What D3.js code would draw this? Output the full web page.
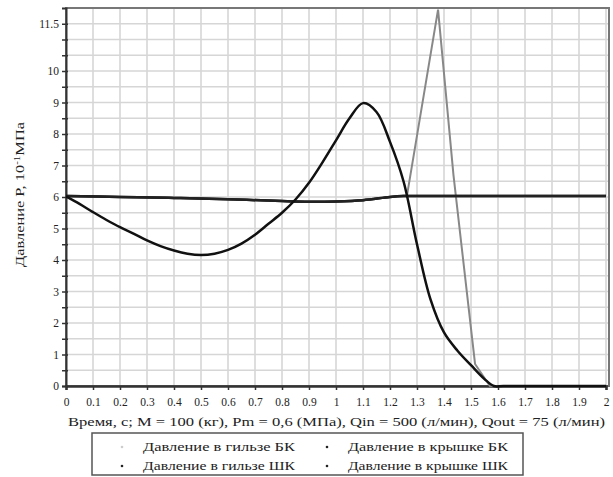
<!DOCTYPE html>
<html>
<head>
<meta charset="utf-8">
<script src="https://d3js.org/d3.v7.min.js"></script>
<style>
    body { margin: 0; background: #fff; }
    text { font-family: "Liberation Serif", "DejaVu Serif", serif; fill: #222; }
</style>
</head>
<body>
<svg width="613" height="477"></svg>
<script>
// time, s
var tGilzaBK  = [0, 0.2, 0.4, 0.6, 0.8, 0.9, 1.0, 1.1, 1.2, 1.263, 1.378, 1.435, 1.515, 1.57, 2];
var pGilzaBK  = [6.03, 6.0, 5.97, 5.93, 5.87, 5.85, 5.86, 5.9, 6.0, 6.05, 11.95, 6.7, 0.7, 0, 0];

var tKryshkaBK = [0, 0.2, 0.4, 0.6, 0.8, 0.9, 1.0, 1.1, 1.2, 1.25, 1.3, 1.6, 2];
var pKryshkaBK = [6.03, 6.0, 5.97, 5.93, 5.87, 5.85, 5.86, 5.9, 6.0, 6.03, 6.03, 6.03, 6.03];

var tGilzaShK = [0, 0.05, 0.1, 0.15, 0.2, 0.25, 0.3, 0.35, 0.4, 0.45, 0.5, 0.55, 0.6, 0.65, 0.7, 0.75, 0.8, 0.85,
                 0.9, 0.95, 1.0, 1.05, 1.1, 1.15, 1.2, 1.25, 1.3, 1.35, 1.4, 1.45, 1.5, 1.55, 1.585, 1.62, 2];
var pGilzaShK = [6.02, 5.78, 5.52, 5.27, 5.04, 4.84, 4.62, 4.44, 4.3, 4.2, 4.16, 4.2, 4.32, 4.52, 4.8, 5.15, 5.5, 5.92,
                 6.45, 7.1, 7.8, 8.5, 8.98, 8.7, 7.75, 6.5, 4.5, 2.75, 1.7, 1.12, 0.66, 0.22, 0, 0, 0];

var tKryshkaShK = tKryshkaBK;
var pKryshkaShK = pKryshkaBK;

var xTicks = d3.range(0, 21).map(function (i) { return i / 10; });
var yLabelTicks = [0, 1, 2, 3, 4, 5, 6, 7, 8, 9, 10, 11.5];
var yMinorTicks = d3.range(0, 24).map(function (i) { return i / 2; });

var legendNames = ["Давление в гильзе БК", "Давление в крышке БК", "Давление в гильзе ШК", "Давление в крышке ШК"];

var svg = d3.select("svg");

var x = d3.scaleLinear().domain([0, 2]).range([66, 606]);
var y = d3.scaleLinear().domain([0, 12]).range([386, 8]);

// grid
svg.append("g").selectAll("line")
    .data(xTicks.slice(1))
    .enter().append("line")
    .attr("x1", function (d) { return x(d); })
    .attr("x2", function (d) { return x(d); })
    .attr("y1", y(12)).attr("y2", y(0))
    .attr("stroke", "#d6d6d6").attr("stroke-width", 1.6);

svg.append("g").selectAll("line")
    .data(yMinorTicks.slice(1))
    .enter().append("line")
    .attr("x1", x(0)).attr("x2", 609)
    .attr("y1", function (d) { return y(d); })
    .attr("y2", function (d) { return y(d); })
    .attr("stroke", "#d6d6d6").attr("stroke-width", 1.6);

// frame
svg.append("rect")
    .attr("x", x(0)).attr("y", y(12))
    .attr("width", 609 - x(0)).attr("height", y(0) - y(12))
    .attr("fill", "none").attr("stroke", "#777").attr("stroke-width", 2);

// axes
var yAxis = svg.append("g")
    .attr("transform", "translate(" + x(0) + ",0)")
    .call(d3.axisLeft(y).tickValues(yMinorTicks).tickSize(4)
        .tickFormat(function (d) { return yLabelTicks.indexOf(d) >= 0 ? d3.format("")(d) : ""; }));
yAxis.select(".domain").attr("stroke", "#333").attr("stroke-width", 2);
yAxis.selectAll(".tick line").attr("stroke", "#333").attr("stroke-width", 1.5).attr("x2", 2).attr("x1", -4);
yAxis.selectAll(".tick text").attr("x", -7).style("font-family", "Liberation Serif").style("font-size", "11.5px").attr("fill", "#222");

var xAxis = svg.append("g")
    .attr("transform", "translate(0," + y(0) + ")")
    .call(d3.axisBottom(x).tickValues(xTicks).tickSize(4).tickFormat(d3.format("")));
xAxis.select(".domain").attr("stroke", "#333").attr("stroke-width", 2.5);
xAxis.selectAll(".tick line").attr("stroke", "#333").attr("stroke-width", 1.5);
xAxis.selectAll(".tick text").attr("y", 12).style("font-family", "Liberation Serif").style("font-size", "11.5px").attr("fill", "#222");

// curves
function series(t, p) {
    return t.map(function (d, i) { return [d, p[i]]; });
}
var smooth = d3.line()
    .x(function (d) { return x(d[0]); })
    .y(function (d) { return y(d[1]); })
    .curve(d3.curveCatmullRom.alpha(0.5));
var straight = d3.line()
    .x(function (d) { return x(d[0]); })
    .y(function (d) { return y(d[1]); });

svg.append("path")
    .attr("d", straight(series(tGilzaBK, pGilzaBK)))
    .attr("fill", "none").attr("stroke", "#888").attr("stroke-width", 2);

svg.append("path")
    .attr("d", smooth(series(tKryshkaShK, pKryshkaShK)))
    .attr("fill", "none").attr("stroke", "#222").attr("stroke-width", 2.5);

svg.append("path")
    .attr("d", smooth(series(tKryshkaBK, pKryshkaBK)))
    .attr("fill", "none").attr("stroke", "#222").attr("stroke-width", 2.5);

svg.append("path")
    .attr("d", smooth(series(tGilzaShK, pGilzaShK)))
    .attr("fill", "none").attr("stroke", "#111").attr("stroke-width", 2.5);

// axis titles
svg.append("text")
    .attr("x", 68).attr("y", 426)
    .attr("textLength", 537).attr("lengthAdjust", "spacingAndGlyphs")
    .style("font-size", "12.5px")
    .text("Время, с; M = 100 (кг), Pm = 0,6 (МПа), Qin = 500 (л/мин), Qout = 75 (л/мин)");

svg.append("text")
    .attr("transform", "translate(24,267) rotate(-90)")
    .attr("textLength", 145).attr("lengthAdjust", "spacingAndGlyphs")
    .style("font-size", "12px")
    .html("Давление P, 10<tspan dy='-4' font-size='8px'>-1</tspan><tspan dy='4'>МПа</tspan>");

// legend
svg.append("rect")
    .attr("x", 92).attr("y", 433).attr("width", 431).attr("height", 42)
    .attr("fill", "#fff").attr("stroke", "#555").attr("stroke-width", 1.5);

var legendColors = ["#ccc", "#222", "#222", "#222"];
var lg = svg.append("g").selectAll("g")
    .data(legendNames)
    .enter().append("g")
    .attr("transform", function (d, i) {
        return "translate(" + (i % 2 === 0 ? 122 : 327) + "," + (i < 2 ? 447 : 466) + ")";
    });
lg.append("circle").attr("r", 1.3).attr("fill", function (d, i) { return legendColors[i]; });
lg.append("text")
    .attr("x", 21).attr("y", 4)
    .attr("textLength", function (d, i) { return i % 2 === 0 ? 152 : 160; })
    .attr("lengthAdjust", "spacingAndGlyphs")
    .style("font-size", "12.5px")
    .text(function (d) { return d; });
</script>
</body>
</html>
